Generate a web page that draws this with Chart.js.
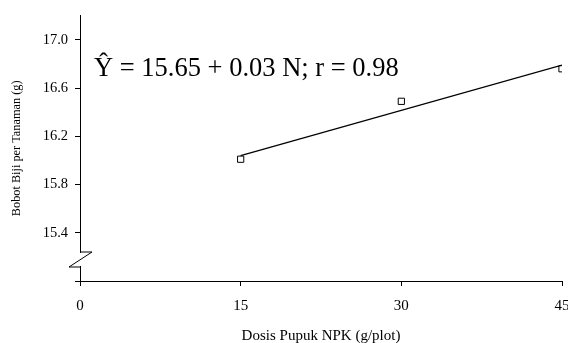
<!DOCTYPE html>
<html><head><meta charset="utf-8">
<script src="https://cdn.jsdelivr.net/npm/chart.js@4.4.0/dist/chart.umd.min.js"></script>
<style>html,body{margin:0;padding:0;background:#fff}#wrap{width:568px;height:343px;position:relative}</style>
</head><body><div id="wrap"><canvas id="c"></canvas></div>
<script>
// ---- data ----
const doses = [15, 30, 45];
const seedWeight = [16.01, 16.49, 16.76];
const trendDoses = [15, 45];
const trendValues = [16.04, 16.79];
const xTicks = [0, 15, 30, 45];
const yTicks = [15.0, 15.4, 15.8, 16.2, 16.6, 17.0];
const yMin = 15.0, yMax = 17.2;
const xMin = 0, xMax = 45;
const equationText = 'Ŷ = 15.65 + 0.03 N; r = 0.98';
const xTitle = 'Dosis Pupuk NPK (g/plot)';
const yTitle = 'Bobot Biji per Tanaman (g)';

const SERIF = "'Liberation Serif', 'Times New Roman', serif";

const breakPlugin = {
  id: 'axisBreak',
  afterDraw(chart) {
    const ctx = chart.ctx;
    const a = chart.chartArea;
    const x0 = a.left;
    const yTop = a.bottom - 29, yBot = a.bottom - 14;
    ctx.save();
    ctx.fillStyle = '#fff';
    ctx.fillRect(x0 - 2, yTop + 1, 4, yBot - yTop - 2);
    ctx.strokeStyle = '#000';
    ctx.lineWidth = 1;
    ctx.beginPath();
    ctx.moveTo(x0, yTop);
    ctx.lineTo(x0 + 12, yTop);
    ctx.lineTo(x0 - 11, yBot);
    ctx.lineTo(x0, yBot);
    ctx.stroke();
    ctx.restore();
  }
};

const equationPlugin = {
  id: 'equation',
  afterDatasetsDraw(chart) {
    const ctx = chart.ctx;
    const a = chart.chartArea;
    ctx.save();
    ctx.font = "26.5px " + SERIF;
    ctx.fillStyle = '#000';
    ctx.textBaseline = 'alphabetic';
    ctx.textAlign = 'left';
    ctx.fillText(equationText, a.left + 14, a.top + 60);
    ctx.restore();
  }
};

new Chart(document.getElementById('c'), {
  type: 'scatter',
  data: {
    datasets: [
      {
        label: 'trend',
        data: trendDoses.map((x, i) => ({x, y: trendValues[i]})),
        showLine: true,
        borderColor: '#000',
        borderWidth: 1.3,
        pointRadius: 0,
        fill: false
      },
      {
        label: 'observed',
        data: doses.map((x, i) => ({x, y: seedWeight[i]})),
        pointStyle: 'rect',
        pointRadius: 4.4,
        pointBackgroundColor: '#fff',
        pointBorderColor: '#000',
        pointBorderWidth: 1,
        showLine: false
      }
    ]
  },
  options: {
    responsive: true,
    maintainAspectRatio: false,
    animation: false,
    layout: { padding: { left: 0, right: 6, top: 13, bottom: 0 } },
    plugins: { legend: { display: false }, tooltip: { enabled: false } },
    scales: {
      x: {
        type: 'linear',
        min: xMin, max: xMax,
        afterBuildTicks: s => { s.ticks = xTicks.map(v => ({value: v})); },
        afterFit: s => { s.height = 62; s.paddingLeft = 0; s.paddingRight = 0; },
        border: { display: true, color: '#000', width: 1 },
        grid: { drawOnChartArea: false, drawTicks: true, tickLength: 5, color: '#000' },
        ticks: { color: '#000', padding: 11, font: { family: SERIF, size: 15 }, maxRotation: 0 },
        title: { display: true, text: xTitle, color: '#000', font: { family: SERIF, size: 15, lineHeight: 0.93 }, padding: { top: 0, bottom: 0 } }
      },
      y: {
        type: 'linear',
        min: yMin, max: yMax,
        afterBuildTicks: s => { s.ticks = yTicks.map(v => ({value: v})); },
        afterFit: s => { s.width = 80; },
        border: { display: true, color: '#000', width: 1 },
        grid: { drawOnChartArea: false, drawTicks: true, tickLength: 5, color: '#000' },
        ticks: {
          color: '#000', padding: 7, font: { family: SERIF, size: 14.5 },
          callback: v => (v === yMin ? '' : Number(v).toFixed(1))
        },
        title: { display: true, text: yTitle, color: '#000', font: { family: SERIF, size: 12.3, lineHeight: 1.2 }, padding: { top: 9, bottom: 0 } }
      }
    }
  },
  plugins: [breakPlugin, equationPlugin]
});
</script>
</body></html>
